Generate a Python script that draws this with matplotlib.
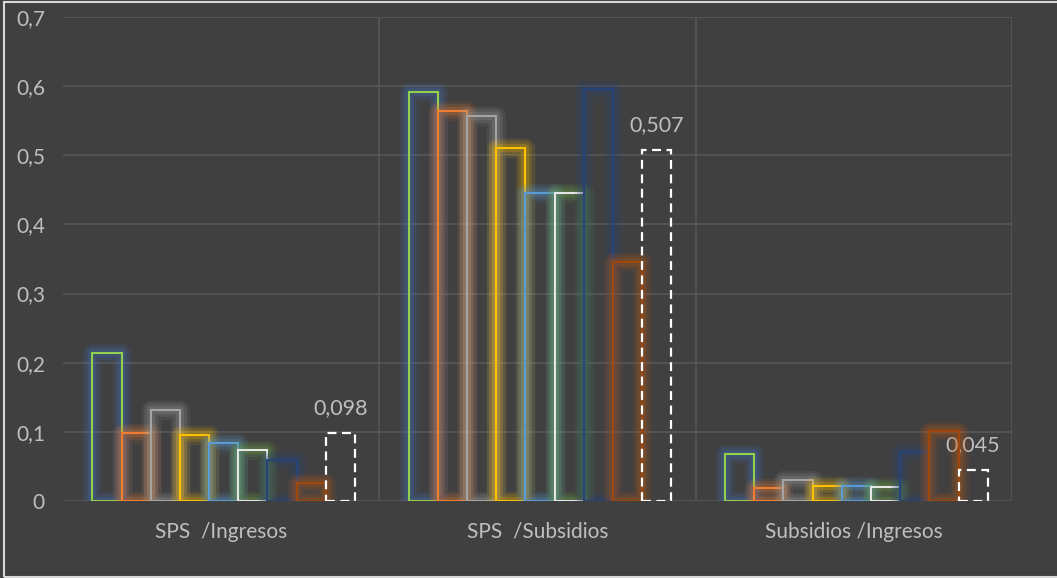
import numpy as np
import matplotlib.pyplot as plt
from matplotlib.patches import Rectangle

# data
categories = ["SPS  /Ingresos", "SPS  /Subsidios", "Subsidios /Ingresos"]
series = [
    [0.214, 0.592, 0.068],
    [0.099, 0.564, 0.019],
    [0.132, 0.557, 0.031],
    [0.095, 0.511, 0.022],
    [0.084, 0.446, 0.022],
    [0.074, 0.446, 0.020],
    [0.059, 0.596, 0.071],
    [0.026, 0.345, 0.101],
]
total = [0.098, 0.507, 0.045]
total_labels = ["0,098", "0,507", "0,045"]
yticks = [0, 0.1, 0.2, 0.3, 0.4, 0.5, 0.6, 0.7]
ytick_labels = ["0", "0,1", "0,2", "0,3", "0,4", "0,5", "0,6", "0,7"]

edge_colors = ["#92D050", "#ED7D31", "#A5A5A5", "#FFC000", "#5B9BD5", "#E6E6E6", "#264478", "#9E480E"]
glow_colors = ["#4472C4", "#ED7D31", "#A5A5A5", "#FFC000", "#5B9BD5", "#70AD47", "#264478", "#C55A11"]

bg = "#404040"
txt = "#BFBFBF"
font = ["Lato", "DejaVu Sans"]

fig = plt.figure(figsize=(10.57, 5.78), dpi=100, facecolor=bg)
ax = fig.add_axes([0.0596, 0.1332, 0.8978, 0.8374])
ax.set_facecolor(bg)

x = np.arange(len(categories))
w = 0.0923
n = len(series) + 1
shift = 0.008

for i, vals in enumerate(series):
    xs = x + shift + (i - (n - 1) / 2) * w
    # soft glow made of a few wide translucent outlines
    for lw, a in [(14, 0.10), (10, 0.14), (6, 0.20)]:
        ax.bar(xs, vals, w, facecolor="none", edgecolor=glow_colors[i],
               linewidth=lw, alpha=a, joinstyle="round", zorder=2 + i)
    ax.bar(xs, vals, w, facecolor="none", edgecolor=edge_colors[i],
           linewidth=1.5, zorder=2.5 + i)

xs = x + shift + (n - 1 - (n - 1) / 2) * w
ax.bar(xs, total, w, facecolor="none", edgecolor="white", linewidth=1.6,
       linestyle=(0, (4, 2.5)), zorder=12)
for xi, v, lab in zip(xs, total, total_labels):
    ax.annotate(lab, (xi, v), xytext=(0, 18), textcoords="offset points",
                ha="center", va="center", color=txt, fontsize=15.5, family=font)

ax.set_xlim(-0.5, 2.5)
ax.set_ylim(0, 0.7)
ax.set_yticks(yticks)
ax.set_yticklabels(ytick_labels, family=font, fontsize=15, color=txt)
ax.set_xticks(x)
ax.set_xticklabels(categories, family=font, fontsize=15, color=txt)
ax.tick_params(axis="y", length=0, pad=13)
ax.tick_params(axis="x", length=0, pad=15)

for y in yticks:
    ax.axhline(y, color="#575757", linewidth=1.2, zorder=0)
for xv in [0.5, 1.5, 2.5]:
    ax.axvline(xv, color="#575757", linewidth=1.2, zorder=0)
for s in ax.spines.values():
    s.set_visible(False)

# light frame around the chart
fig.patches.append(Rectangle((3.5 / 1057, 1.5 / 578), 1.1, 1 - 3.5 / 578,
                             transform=fig.transFigure, facecolor="none",
                             edgecolor="#D9D9D9", linewidth=1.5))

fig.savefig("out.png", dpi=100, facecolor=bg)
